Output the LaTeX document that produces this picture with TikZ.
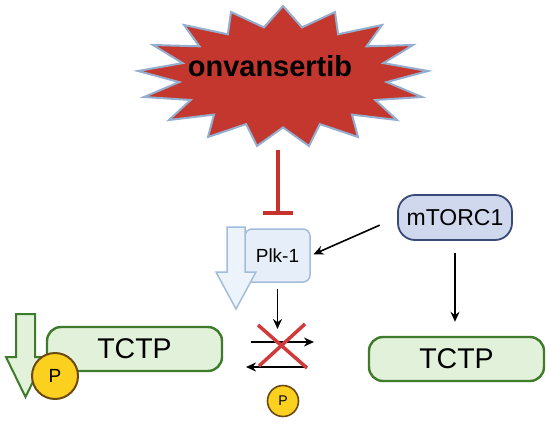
\documentclass[tikz,border=0pt]{standalone}
\usepackage{fontspec}
\setmainfont{Liberation Sans}
\usetikzlibrary{arrows.meta}
\definecolor{burstred}{HTML}{C4372F}
\definecolor{burstedge}{HTML}{94AED0}
\definecolor{inhred}{HTML}{C8322E}
\definecolor{plkfill}{HTML}{E6EEF9}
\definecolor{plkedge}{HTML}{A3BCDB}
\definecolor{mtorfill}{HTML}{D0D8EE}
\definecolor{mtoredge}{HTML}{394A78}
\definecolor{tctpfill}{HTML}{E2F2DA}
\definecolor{tctpedge}{HTML}{3E7B2A}
\definecolor{pfill}{HTML}{FBD01E}
\definecolor{pedge}{HTML}{6A4A12}
\definecolor{xred}{HTML}{D03A3A}
\tikzset{
  arr/.style={line width=1.6pt, -{Stealth[length=10pt,width=9pt]}},
  inh/.style={inhred, line width=4.5pt, -{Bar[width=30pt]}},
  tctpbox/.style={draw=tctpedge, fill=tctpfill, line width=2.4pt, rounded corners=14pt,
    minimum width=175pt, minimum height=44pt, inner sep=0pt, font=\fontsize{28.5}{30}\selectfont},
  phos/.style={circle, draw=pedge, fill=pfill, inner sep=0pt},
  xline/.style={xred, line width=3.5pt},
}
\begin{document}
\begin{tikzpicture}[x=1pt,y=-1pt]
\useasboundingbox[fill=white] (0,0) rectangle (550,424);
% starburst
\draw[fill=burstred, draw=burstedge, line width=2pt, line join=miter]
 (283,6) -- (302,27.4) -- (335,12) -- (338.1,34.3) -- (382,25) -- (366.6,46.3) --
 (413,45) -- (383.4,63.1) -- (428,71) -- (386.7,82.1) -- (422,97) -- (375.3,100) --
 (397,120) -- (352,114.6) -- (358,137) -- (319.9,124.1) -- (309,146) -- (283,127.4) --
 (257,146) -- (246.1,124.1) -- (208,137) -- (214,114.6) -- (169,120) -- (190.7,100) --
 (144,97) -- (179.3,82.1) -- (138,71) -- (182.6,63.1) -- (153,45) -- (199.4,46.3) --
 (184,25) -- (227.9,34.3) -- (231,12) -- (264,27.4) -- cycle;
\node[anchor=base, font=\fontsize{29}{30}\selectfont\bfseries] (drug) at (270,76) {onvansertib};
\coordinate (burstbot) at (278,150);
% Plk-1
\node[draw=plkedge, fill=plkfill, line width=1.5pt, rounded corners=7pt, minimum width=65pt,
  minimum height=53pt, inner sep=0pt, font=\fontsize{19}{20}\selectfont] (plk) at (277.5,255.5) {Plk-1};
\coordinate (inhend) at (278,215);
\draw[inh] (burstbot) -- (inhend);
% blue hollow arrow
\draw[draw=plkedge, fill=plkfill!70!white, line width=1.5pt, line join=miter]
 (227,227) -- (245,227) -- (245,272) -- (256,272) -- (236,309) -- (216,272) -- (227,272) -- cycle;
% mTORC1
\node[draw=mtoredge, fill=mtorfill, line width=1.8pt, rounded corners=17pt, minimum width=114pt,
  minimum height=45pt, inner sep=0pt, font=\fontsize{23}{24}\selectfont] (mtor) at (455,217.5) {mTORC1};
\draw[arr, shorten <=19pt, shorten >=3pt] (mtor.west) -- (plk.east);
% right TCTP
\node[tctpbox] (tctpR) at (456.5,359) {TCTP};
\draw[arr, shorten <=12pt, shorten >=14pt] (mtor.south) -- (mtor.south |- tctpR.north);
% left TCTP
\node[tctpbox] (tctpL) at (134.5,349) {TCTP};
\draw[draw=tctpedge, fill=tctpfill, line width=2pt, line join=miter]
 (16,314) -- (35,314) -- (35,357) -- (45,357) -- (25.5,397) -- (6,357) -- (16,357) -- cycle;
\node[phos, minimum size=46pt, line width=2pt, font=\fontsize{19}{20}\selectfont] (pL) at (55,376) {P};
% middle reaction
\coordinate (downEnd) at (277.5,329);
\draw[arr, shorten <=6pt] (plk.south) -- (downEnd);
\coordinate (fwdA) at (251,342);
\coordinate (fwdB) at (314,342);
\coordinate (revA) at (304,367);
\coordinate (revB) at (246,367);
\draw[arr] (fwdA) -- (fwdB);
\draw[arr] (revA) -- (revB);
\coordinate (xa1) at (258,325);
\coordinate (xb1) at (307,368);
\coordinate (xa2) at (305,324);
\coordinate (xb2) at (259,366);
\draw[xline] (xa1) -- (xb1);
\draw[xline] (xa2) -- (xb2);
\node[phos, minimum size=31pt, line width=1.6pt, font=\fontsize{14}{15}\selectfont] (pS) at (283,401) {P};
\end{tikzpicture}
\end{document}
